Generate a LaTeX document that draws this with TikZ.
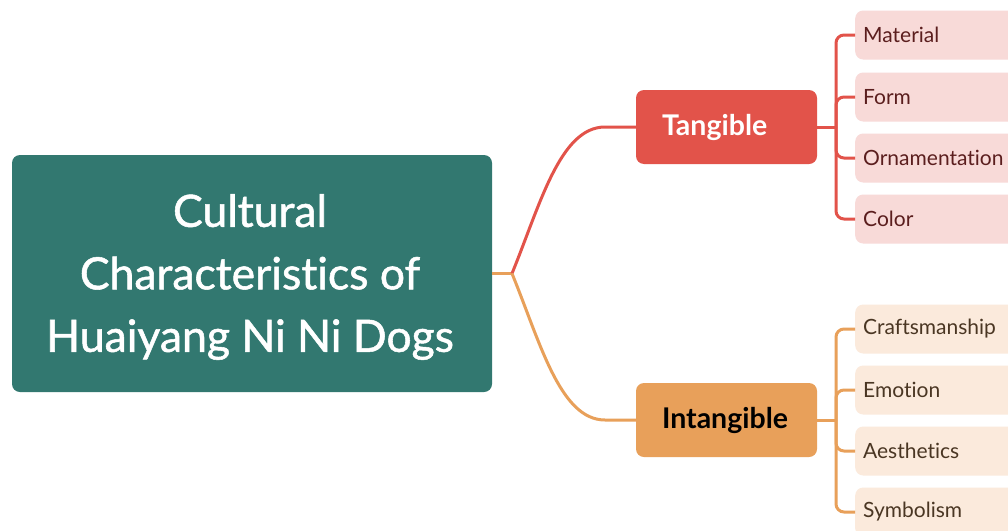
\documentclass[tikz,border=0pt]{standalone}
\usepackage{fontspec}
\setmainfont{Lato}[Ligatures=NoCommon]
\newfontfamily\rootfont[FakeBold=1.2,Ligatures=NoCommon]{Lato}
\definecolor{teal1}{HTML}{327870}
\definecolor{red1}{HTML}{E2534A}
\definecolor{orange1}{HTML}{E8A05A}
\definecolor{pink1}{HTML}{F8DAD8}
\definecolor{peach1}{HTML}{FBEADC}
\definecolor{redtext}{HTML}{5B1E1E}
\definecolor{browntext}{HTML}{4A3623}
\begin{document}
\begin{tikzpicture}[x=1pt,y=-1pt,
  rootbox/.style={fill=teal1,rounded corners=8pt,minimum width=480pt,minimum height=237pt,inner sep=0pt},
  roottext/.style={text=white,align=center,font=\rootfont\fontsize{44.5}{62.5}\selectfont,inner sep=0pt},
  midbox/.style={rounded corners=8pt,text width=129pt,minimum height=74pt,align=left,
    font=\fontsize{28.5}{30}\selectfont\bfseries,inner xsep=26pt,inner ysep=0pt},
  leafbox/.style={rounded corners=8pt,minimum height=49pt,text width=150pt,align=left,
    inner xsep=8pt,inner ysep=0pt,font=\fontsize{21}{24}\selectfont,anchor=west},
  redline/.style={draw=red1,line width=3pt},
  orline/.style={draw=orange1,line width=3pt},
]
\useasboundingbox (0,0) rectangle (1008,530);
\fill[white] (0,0) rectangle (1008,530);

\node[rootbox] (root) at (252,273.5) {};
\node[roottext] (roottxt) at (250,277) {Cultural\\Characteristics of\\Huaiyang Ni Ni Dogs};
\node[midbox,fill=red1,text=white] (tang) at (726.5,127) {Tangible};
\node[midbox,fill=orange1,text=black] (intang) at (726.5,420) {Intangible};

\coordinate (hub) at (512,273.5);
\coordinate (tb) at (836,127);
\coordinate (ib) at (836,420);

\foreach \n/\t/\y in {m/Material/35,f/Form/97,o/Ornamentation/158,c/Color/219}
  \node[leafbox,fill=pink1,text=redtext] (\n) at (855,\y) {\t};
\foreach \n/\t/\y in {cr/Craftsmanship/329,em/Emotion/390,ae/Aesthetics/451,sy/Symbolism/512}
  \node[leafbox,fill=peach1,text=browntext] (\n) at (855,\y) {\t};

% root to hub
\draw[orline] (root.east) -- (hub);
\draw[redline] (hub) .. controls (540,205) and (560,127) .. (605,127) -- (tang.west);
\draw[orline] (hub) .. controls (540,342) and (560,420) .. (605,420) -- (intang.west);

% tangible bracket
\draw[redline] (tang.east) -- (tb);
\foreach \n in {m,f,o,c}
  \draw[redline,rounded corners=8pt] (tb) |- (\n.west);
% intangible bracket
\draw[orline] (intang.east) -- (ib);
\foreach \n in {cr,em,ae,sy}
  \draw[orline,rounded corners=8pt] (ib) |- (\n.west);
\end{tikzpicture}
\end{document}
